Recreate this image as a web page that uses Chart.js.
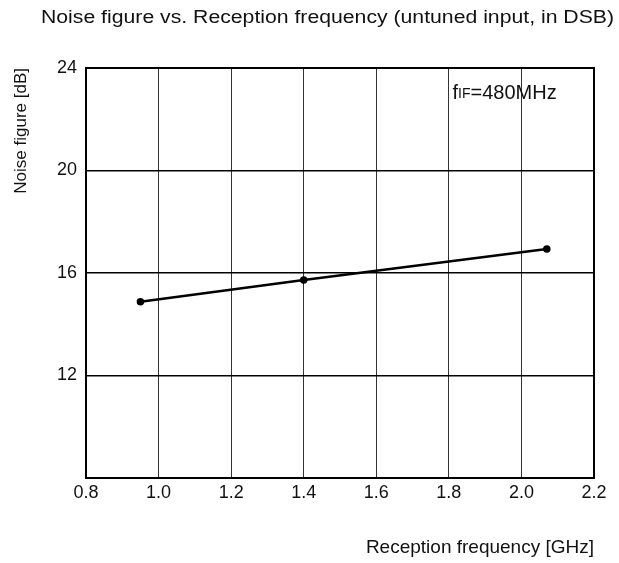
<!DOCTYPE html>
<html>
<head>
<meta charset="utf-8">
<script src="https://cdn.jsdelivr.net/npm/chart.js@4.4.0/dist/chart.umd.min.js"></script>
<style>
  html, body { margin: 0; padding: 0; background: #fff; }
  #wrap { width: 619px; height: 563px; }
</style>
</head>
<body>
<div id="wrap"><canvas id="nfChart"></canvas></div>
<script>
var freqGHz = [0.95, 1.40, 2.07];
var noiseDb = [14.88, 15.73, 16.94];
var xTicks = [0.8, 1.0, 1.2, 1.4, 1.6, 1.8, 2.0, 2.2];
var yTicks = [8, 12, 16, 20, 24];
var chartTitle = "Noise figure vs. Reception frequency (untuned input, in DSB)";
var noteAt = [1.81, 23.0];

var FONT = "'Liberation Sans', Arial, Helvetica, sans-serif";

var points = freqGHz.map(function(f, i) { return { x: f, y: noiseDb[i] }; });

// frame round the plot, page title and the f_IF note
var extras = {
  id: 'extras',
  afterDraw: function(chart) {
    var ctx = chart.ctx, a = chart.chartArea;
    ctx.save();
    ctx.strokeStyle = '#000';
    ctx.lineWidth = 2;
    ctx.strokeRect(a.left, a.top, a.right - a.left, a.bottom - a.top);

    ctx.fillStyle = '#111';
    ctx.textBaseline = 'middle';
    ctx.textAlign = 'left';
    ctx.font = '18px ' + FONT;
    var w = ctx.measureText(chartTitle).width;
    ctx.save();
    ctx.translate(41, 18);
    ctx.scale(573 / w, 1);
    ctx.fillText(chartTitle, 0, 0);
    ctx.restore();

    var x = chart.scales.x.getPixelForValue(noteAt[0]);
    var y = chart.scales.y.getPixelForValue(noteAt[1]);
    ctx.font = '20px ' + FONT;
    ctx.fillText('f', x, y);
    x += ctx.measureText('f').width;
    ctx.font = '14px ' + FONT;
    ctx.fillText('IF', x, y + 1);
    x += ctx.measureText('IF').width;
    ctx.font = '20px ' + FONT;
    ctx.fillText('=480MHz', x, y);
    ctx.restore();
  }
};

var ctx = document.getElementById('nfChart').getContext('2d');
var nfChart = new Chart(ctx, {
  type: 'scatter',
  data: {
    datasets: [{
      data: points,
      showLine: true,
      borderColor: '#000',
      backgroundColor: '#000',
      borderWidth: 2.5,
      pointRadius: 2.5,
      tension: 0
    }]
  },
  options: {
    responsive: true,
    maintainAspectRatio: false,
    animation: false,
    layout: { padding: { top: 68, right: 25, left: 0, bottom: 0 } },
    plugins: {
      legend: { display: false },
      tooltip: { enabled: false }
    },
    scales: {
      x: {
        type: 'linear',
        min: xTicks[0],
        max: xTicks[xTicks.length - 1],
        afterFit: function(s) { s.height = 85; },
        afterBuildTicks: function(s) { s.ticks = xTicks.map(function(v) { return { value: v }; }); },
        ticks: {
          color: '#111',
          padding: 4,
          font: { family: FONT, size: 18 },
          callback: function(v) { return v.toFixed(1); }
        },
        grid: { color: '#333', lineWidth: 1, drawTicks: false },
        border: { display: false },
        title: {
          display: true,
          text: 'Reception frequency [GHz]',
          align: 'end',
          color: '#111',
          font: { family: FONT, size: 19 },
          padding: { top: 0, bottom: 4 }
        }
      },
      y: {
        type: 'linear',
        min: yTicks[0],
        max: yTicks[yTicks.length - 1],
        afterFit: function(s) { s.width = 86; },
        afterBuildTicks: function(s) { s.ticks = yTicks.map(function(v) { return { value: v }; }); },
        ticks: {
          color: '#111',
          padding: 9,
          font: { family: FONT, size: 18 },
          callback: function(v) { return v === yTicks[0] ? '' : v; }
        },
        grid: { color: '#000', lineWidth: 1.5, drawTicks: false },
        border: { display: false },
        title: {
          display: true,
          text: 'Noise figure [dB]',
          align: 'end',
          color: '#111',
          font: { family: FONT, size: 17 },
          padding: { top: 11, bottom: 0 }
        }
      }
    }
  },
  plugins: [extras]
});
</script>
</body>
</html>
